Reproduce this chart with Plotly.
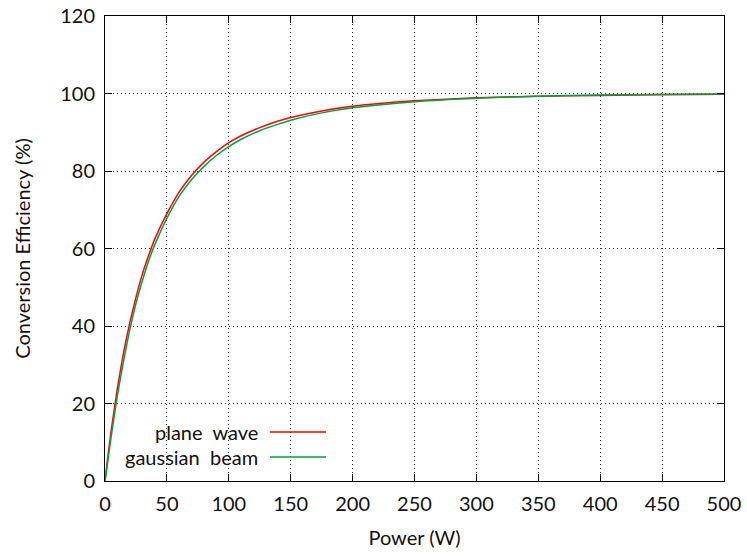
import plotly.graph_objects as go

power = [0, 2, 5, 10, 15, 20, 25, 30, 35, 40, 50, 60, 70, 80, 90, 100, 110, 125, 140, 150, 175, 200, 250, 300, 350, 400, 450, 500]
plane_wave = [0, 5.5, 13.0, 23.9, 33.1, 40.8, 47.4, 53.2, 58.0, 62.3, 69.0, 74.6, 78.9, 82.3, 85.0, 87.3, 89.1, 91.2, 92.9, 93.8, 95.5, 96.7, 98.1, 98.9, 99.3, 99.5, 99.7, 99.8]
gaussian_beam = [0, 4.5, 11.5, 22.0, 31.0, 39.0, 45.8, 51.5, 56.6, 60.8, 67.8, 73.5, 77.8, 81.2, 84.0, 86.3, 88.2, 90.4, 92.1, 93.1, 95.0, 96.3, 97.9, 98.8, 99.3, 99.6, 99.8, 99.9]
series_names = ["plane wave", "gaussian beam"]
series_colors = ["#ff0000", "#00a040"]
x_ticks = [0, 50, 100, 150, 200, 250, 300, 350, 400, 450, 500]
y_ticks = [0, 20, 40, 60, 80, 100, 120]

FONT = "Lato, sans-serif"
FS = 20

fig = go.Figure()
for name, ys, col in zip(series_names, [plane_wave, gaussian_beam], series_colors):
    fig.add_trace(go.Scatter(x=power, y=ys, mode="lines", name=name,
                             line=dict(color=col, width=1.5, shape="spline", smoothing=0.5),
                             showlegend=False))

axis_common = dict(showline=True, linecolor="black", linewidth=1, mirror="ticks",
                   ticks="inside", ticklen=7, tickcolor="black", automargin=False,
                   showgrid=True, gridcolor="#333", griddash="1px,3px", gridwidth=1,
                   zeroline=False, tickfont=dict(family=FONT, size=FS, color="#111"))

fig.update_xaxes(range=[0, 500], tickvals=x_ticks, ticktext=[str(v) for v in x_ticks],
                 ticklabelstandoff=5,
                 title=dict(text="Power (W)", font=dict(family=FONT, size=FS, color="#111"), standoff=16),
                 **axis_common)
fig.update_yaxes(range=[0, 120], tickvals=y_ticks, ticktext=[str(v) for v in y_ticks],
                 ticklabelstandoff=5,
                 title=dict(text="Conversion Efficiency (%)", font=dict(family=FONT, size=FS, color="#111"), standoff=24),
                 **axis_common)

# legend drawn gnuplot-style: text right-aligned, sample line to the right
leg_y = [432, 457]
for name, col, yp in zip(series_names, series_colors, leg_y):
    fig.add_annotation(xref="paper", yref="paper", x=(260 - 105) / 619, y=(481 - yp) / 465,
                       text=name.replace(" ", "&nbsp;&nbsp;"), showarrow=False, xanchor="right", yanchor="middle",
                       font=dict(family=FONT, size=FS, color="#111"))
    fig.add_shape(type="line", xref="paper", yref="paper",
                  x0=(270 - 105) / 619, x1=(326 - 105) / 619,
                  y0=(481 - yp) / 465, y1=(481 - yp) / 465,
                  line=dict(color=col, width=1.5))

fig.update_layout(width=747, height=558, margin=dict(l=105, r=23, t=16, b=77),
                  plot_bgcolor="white", paper_bgcolor="white")
fig.write_html("out.html")
